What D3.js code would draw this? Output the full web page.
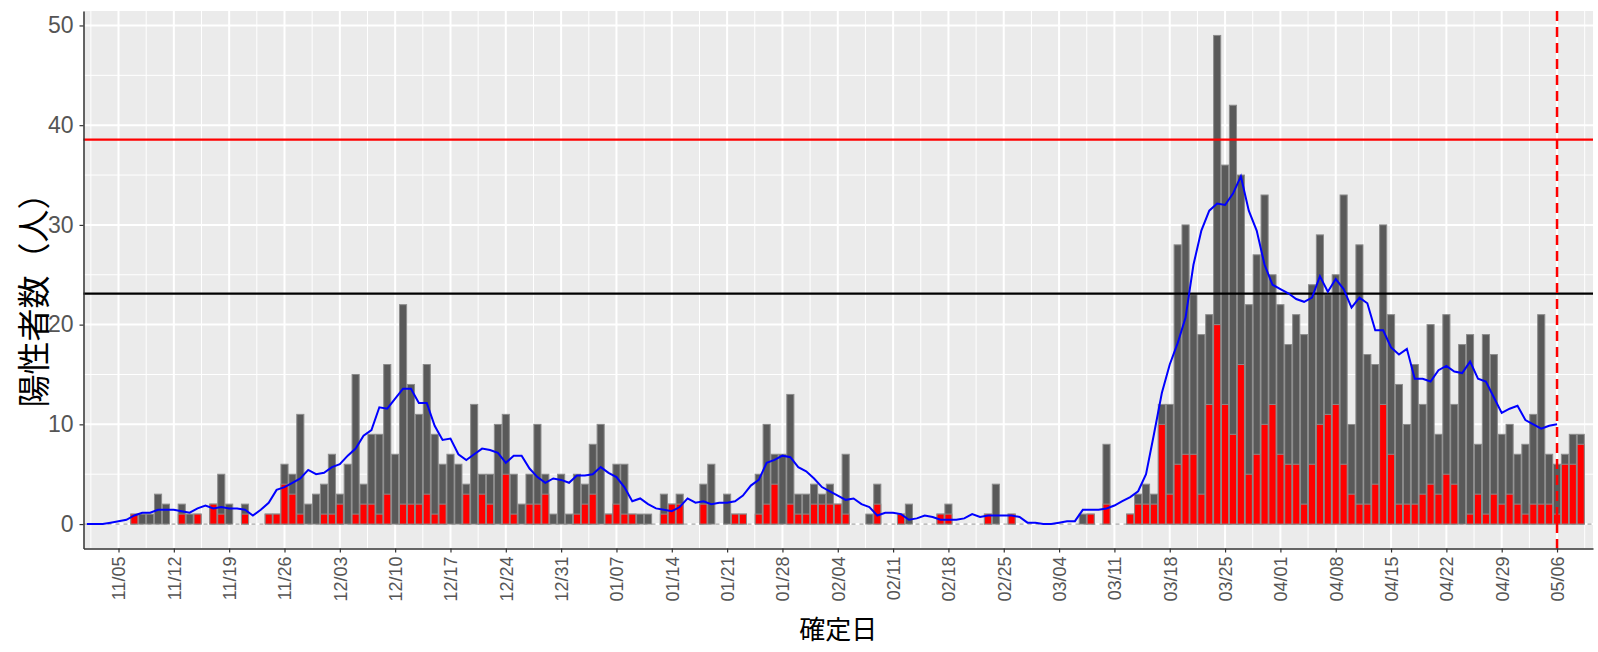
<!DOCTYPE html>
<html>
<head>
<meta charset="utf-8">
<script src="https://cdn.jsdelivr.net/npm/d3@7"></script>
<style>
  body { margin: 0; background: #fff; }
  text { font-family: "Liberation Sans", Arial, sans-serif; }
</style>
</head>
<body>
<svg id="chart" width="1598" height="652"></svg>
<script>
// 日別陽性者数（2020-11-01 から）
const startDay = "2020-11-01";

const totalCases = [
    0, 0, 0, 0, 0, 0, 1, 1, 1, 3,
    2, 0, 2, 1, 1, 0, 2, 5, 2, 0,
    2, 0, 0, 1, 1, 6, 5, 11, 2, 3,
    4, 7, 3, 6, 15, 4, 9, 9, 16, 7,
    22, 14, 11, 16, 9, 6, 7, 6, 4, 12,
    5, 5, 10, 11, 5, 2, 5, 10, 5, 1,
    5, 1, 5, 4, 8, 10, 1, 6, 6, 1,
    1, 1, 0, 3, 2, 3, 0, 0, 4, 6,
    0, 3, 1, 1, 0, 5, 10, 7, 7, 13,
    3, 3, 4, 3, 4, 2, 7, 0, 0, 1,
    4, 0, 0, 1, 2, 0, 0, 0, 1, 2,
    0, 0, 0, 0, 1, 4, 0, 1, 0, 0,
    0, 0, 0, 0, 0, 0, 1, 1, 0, 8,
    0, 0, 1, 3, 4, 3, 12, 12, 28, 30,
    23, 19, 21, 49, 36, 42, 35, 22, 27, 33,
    25, 22, 18, 21, 19, 24, 29, 23, 25, 33,
    10, 28, 17, 16, 30, 21, 14, 10, 16, 12,
    20, 9, 21, 12, 18, 19, 8, 19, 17, 9,
    10, 7, 8, 11, 21, 7, 6, 7, 9, 9
];

// うち赤色部分
const redCases = [
    0, 0, 0, 0, 0, 0, 1, 0, 0, 0,
    0, 0, 1, 0, 1, 0, 2, 1, 0, 0,
    1, 0, 0, 1, 1, 4, 3, 1, 0, 0,
    1, 1, 2, 0, 1, 2, 2, 1, 3, 0,
    2, 2, 2, 3, 1, 2, 0, 0, 3, 0,
    3, 2, 0, 5, 1, 0, 2, 2, 3, 0,
    0, 0, 1, 2, 3, 0, 1, 2, 1, 1,
    0, 0, 0, 1, 2, 2, 0, 0, 2, 0,
    0, 0, 1, 1, 0, 1, 2, 4, 0, 2,
    1, 1, 2, 2, 2, 2, 1, 0, 0, 0,
    2, 0, 0, 1, 0, 0, 0, 0, 1, 1,
    0, 0, 0, 0, 1, 0, 0, 1, 0, 0,
    0, 0, 0, 0, 0, 0, 0, 1, 0, 2,
    0, 0, 1, 2, 2, 2, 10, 3, 6, 7,
    7, 3, 12, 20, 12, 9, 16, 5, 7, 10,
    12, 7, 6, 6, 2, 6, 10, 11, 12, 6,
    3, 2, 2, 4, 12, 7, 2, 2, 2, 3,
    4, 3, 5, 4, 0, 1, 3, 1, 3, 2,
    3, 2, 1, 2, 2, 2, 1, 6, 6, 8
];

// 青線（7日平均）の値
const avgLine = [
    0, 0, 0, 0.14, 0.29, 0.43, 0.86, 1.14, 1.14, 1.43,
    1.43, 1.43, 1.29, 1.14, 1.57, 1.86, 1.57, 1.71, 1.57, 1.57,
    1.43, 0.86, 1.43, 2.14, 3.43, 3.71, 4.14, 4.57, 5.43, 5.00,
    5.14, 5.71, 6.00, 6.86, 7.57, 8.86, 9.43, 11.71, 11.57, 12.57,
    13.57, 13.57, 12.14, 12.14, 9.86, 8.43, 8.57, 7.00, 6.43, 7.00,
    7.57, 7.43, 7.14, 6.14, 6.86, 6.86, 5.57, 4.71, 4.14, 4.57,
    4.43, 4.14, 4.86, 4.86, 5.00, 5.71, 5.14, 4.71, 3.71, 2.29,
    2.57, 2.00, 1.57, 1.43, 1.29, 1.71, 2.57, 2.14, 2.29, 2.00,
    2.14, 2.14, 2.29, 2.86, 3.86, 4.43, 6.14, 6.43, 6.86, 6.71,
    5.71, 5.29, 4.57, 3.71, 3.29, 2.86, 2.43, 2.57, 2.00, 1.71,
    0.86, 1.14, 1.14, 1.00, 0.43, 0.57, 0.86, 0.71, 0.43, 0.43,
    0.43, 0.57, 1.00, 0.71, 0.86, 0.86, 0.86, 0.86, 0.71, 0.14,
    0.14, 0, 0, 0.14, 0.29, 0.29, 1.43, 1.43, 1.43, 1.57,
    1.86, 2.29, 2.71, 3.29, 5.00, 9.00, 13.14, 16.00, 18.14, 20.71,
    26.00, 29.43, 31.43, 32.14, 32.00, 33.14, 34.86, 31.43, 29.43, 26.00,
    24.00, 23.57, 23.14, 22.57, 22.29, 22.71, 24.86, 23.29, 24.57, 23.57,
    21.71, 22.71, 22.14, 19.43, 19.43, 17.71, 17.00, 17.57, 14.57, 14.57,
    14.29, 15.43, 15.86, 15.29, 15.14, 16.29, 14.57, 14.29, 12.71, 11.14,
    11.57, 11.86, 10.43, 10.00, 9.57, 9.86, 10.00
];

const xTickLabels = ["11/05", "11/12", "11/19", "11/26", "12/03", "12/10", "12/17", "12/24", "12/31",
    "01/07", "01/14", "01/21", "01/28", "02/04", "02/11", "02/18", "02/25", "03/04", "03/11",
    "03/18", "03/25", "04/01", "04/08", "04/15", "04/22", "04/29", "05/06"];
const yTicks = [0, 10, 20, 30, 40, 50];
const yMinorTicks = [5, 15, 25, 35, 45];

const redLevel = 38.55;
const blackLevel = 23.1;
const markerLabel = "05/06";

const yTitle = "陽性者数（人）";
const xTitle = "確定日";

// ---- 描画 ----
const svg = d3.select('#chart');
const panel = {left: 83.5, right: 1593, top: 11, bottom: 548.5};

const start = d3.utcParse("%Y-%m-%d")(startDay);
const dayAt = f => new Date(+start + f * 864e5);
const days = totalCases.map((_, i) => d3.utcDay.offset(start, i));

function labelToDate(s) {
    const [m, d] = s.split('/').map(Number);
    return new Date(Date.UTC(m >= 11 ? 2020 : 2021, m - 1, d));
}
const tickDates = xTickLabels.map(labelToDate);
const markerDate = labelToDate(markerLabel);

const x = d3.scaleUtc()
    .domain([dayAt(-0.43), dayAt(190.55)])
    .range([panel.left, panel.right]);
const y = d3.scaleLinear()
    .domain([-2.45, 51.45])
    .range([panel.bottom, panel.top]);

const dayPx = x(dayAt(1)) - x(dayAt(0));
const bw = dayPx * 0.9;

// パネル背景
svg.append('rect')
    .attr('x', panel.left).attr('y', panel.top)
    .attr('width', panel.right - panel.left)
    .attr('height', panel.bottom - panel.top)
    .attr('fill', '#ebebeb');

const grid = svg.append('g');

// 補助目盛線
const xMinor = tickDates.map(d => d3.utcHour.offset(d, -84))
    .concat([d3.utcHour.offset(tickDates[tickDates.length - 1], 84)])
    .filter(d => x(d) > panel.left && x(d) < panel.right);

grid.selectAll('.xminor').data(xMinor).join('line')
    .attr('x1', d => x(d)).attr('x2', d => x(d))
    .attr('y1', panel.top).attr('y2', panel.bottom)
    .attr('stroke', '#fff').attr('stroke-width', 1);
grid.selectAll('.yminor').data(yMinorTicks).join('line')
    .attr('x1', panel.left).attr('x2', panel.right)
    .attr('y1', d => y(d)).attr('y2', d => y(d))
    .attr('stroke', '#fff').attr('stroke-width', 1);

// 主目盛線
grid.selectAll('.xmajor').data(tickDates).join('line')
    .attr('x1', d => x(d)).attr('x2', d => x(d))
    .attr('y1', panel.top).attr('y2', panel.bottom)
    .attr('stroke', '#fff').attr('stroke-width', 2);
grid.selectAll('.ymajor').data(yTicks).join('line')
    .attr('x1', panel.left).attr('x2', panel.right)
    .attr('y1', d => y(d)).attr('y2', d => y(d))
    .attr('stroke', '#fff').attr('stroke-width', 2);

// y=0 の破線
svg.append('line')
    .attr('x1', panel.left).attr('x2', panel.right)
    .attr('y1', y(0)).attr('y2', y(0))
    .attr('stroke', '#8c8c8c').attr('stroke-width', 1)
    .attr('stroke-dasharray', '4,4');

// 棒グラフ
const barData = days.map((d, i) => ({date: d, total: totalCases[i], red: redCases[i]}));

svg.append('g').selectAll('rect')
    .data(barData.filter(d => d.total > 0))
    .join('rect')
    .attr('x', d => x(d.date) - bw / 2)
    .attr('width', bw)
    .attr('y', d => y(d.total))
    .attr('height', d => y(0) - y(d.total))
    .attr('fill', '#595959')
    .attr('stroke', '#8c8c8c')
    .attr('stroke-width', 1);

svg.append('g').selectAll('rect')
    .data(barData.filter(d => d.red > 0))
    .join('rect')
    .attr('x', d => x(d.date) - bw / 2)
    .attr('width', bw)
    .attr('y', d => y(d.red))
    .attr('height', d => y(0) - y(d.red))
    .attr('fill', '#ff0000')
    .attr('stroke', '#8c8c8c')
    .attr('stroke-width', 1);

// 水平線
svg.append('line')
    .attr('x1', panel.left).attr('x2', panel.right)
    .attr('y1', y(redLevel)).attr('y2', y(redLevel))
    .attr('stroke', '#ff0000').attr('stroke-width', 2.3);
svg.append('line')
    .attr('x1', panel.left).attr('x2', panel.right)
    .attr('y1', y(blackLevel)).attr('y2', y(blackLevel))
    .attr('stroke', '#000').attr('stroke-width', 2.3);

// 7日平均
const line = d3.line()
    .x((d, i) => x(days[i]))
    .y(d => y(d));
svg.append('path')
    .datum(avgLine)
    .attr('d', line)
    .attr('fill', 'none')
    .attr('stroke', '#0000ff')
    .attr('stroke-width', 2);

// 縦の破線
svg.append('line')
    .attr('x1', x(markerDate)).attr('x2', x(markerDate))
    .attr('y1', panel.top).attr('y2', panel.bottom)
    .attr('stroke', '#ff0000').attr('stroke-width', 2.5)
    .attr('stroke-dasharray', '10,6');

// 軸
const xAxis = d3.axisBottom(x)
    .tickValues(tickDates)
    .tickFormat(d3.utcFormat('%m/%d'))
    .tickSize(4)
    .tickSizeOuter(0);
const gx = svg.append('g')
    .attr('transform', `translate(0,${panel.bottom})`)
    .call(xAxis);
gx.select('.domain').attr('stroke', '#333').attr('stroke-width', 1.5);
gx.selectAll('.tick line').attr('stroke', '#333').attr('stroke-width', 1.2);
gx.selectAll('.tick text')
    .attr('y', 0).attr('x', -8).attr('dy', '0.35em')
    .attr('transform', 'rotate(-90)')
    .style('text-anchor', 'end')
    .attr('fill', '#555')
    .style('font-size', '18px');

const yAxis = d3.axisLeft(y)
    .tickValues(yTicks)
    .tickSize(4)
    .tickPadding(6)
    .tickSizeOuter(0);
const gy = svg.append('g')
    .attr('transform', `translate(${panel.left},0)`)
    .call(yAxis);
gy.select('.domain').attr('stroke', '#333').attr('stroke-width', 1.5);
gy.selectAll('.tick line').attr('stroke', '#333').attr('stroke-width', 1.2);
gy.selectAll('.tick text')
    .attr('fill', '#555')
    .style('font-size', '23px');

// 軸タイトル
svg.append('text')
    .attr('transform', `translate(34,292) rotate(-90)`)
    .attr('text-anchor', 'middle')
    .attr('dy', '0.35em')
    .style('font-family', '"Noto Sans CJK JP", sans-serif')
    .style('font-size', '33px')
    .attr('fill', '#000')
    .text(yTitle);

svg.append('text')
    .attr('x', (panel.left + panel.right) / 2)
    .attr('y', 630)
    .attr('text-anchor', 'middle')
    .attr('dy', '0.35em')
    .style('font-family', '"Noto Sans CJK JP", sans-serif')
    .style('font-size', '26px')
    .attr('fill', '#000')
    .text(xTitle);
</script>
</body>
</html>
